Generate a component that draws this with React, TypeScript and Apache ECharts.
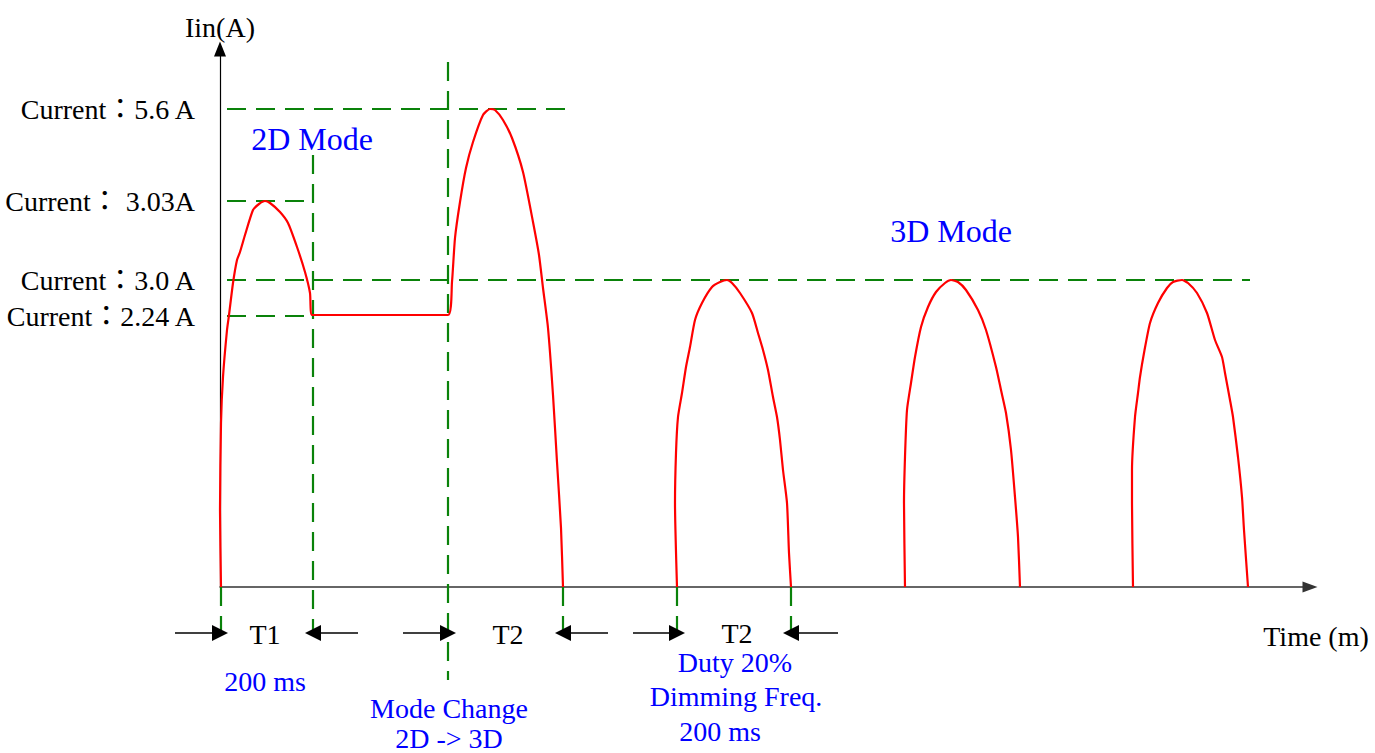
import React, { useEffect, useRef } from "react";
import * as echarts from "echarts";

// Schematic units: x = time position, y = drawn current level (diagram is not to scale)
const levelNames = ["Current：5.6 A", "Current： 3.03A", "Current：3.0 A", "Current：2.24 A"];
const levelHeights = [478, 386, 307, 271];
const levelStart = [-22, -22, -22, -22];
const levelEnd = [345, 85, 1030, 92];

// 2D pulse, hold at 2.24 A, then mode-change pulse
const pulse2D = [
  [1, 0], [0, 77], [1, 164], [3, 210], [7, 257], [9, 272], [13, 304], [17, 327], [20, 335],
  [25, 352], [33, 377], [39, 383], [45, 386], [50, 384], [60, 375], [68, 364], [77, 340],
  [85, 315], [90, 294], [92, 272],
];
const holdLevel = [[92, 272], [228, 272]];
const pulseChange = [
  [228, 272], [232, 305], [235, 349], [240, 385], [246, 419], [253, 445], [263, 472], [270, 478],
  [275, 477], [283, 467], [292, 449], [303, 415], [313, 365], [319, 332], [323, 299], [328, 259],
  [333, 192], [337, 125], [341, 59], [343, 0],
];
const pulse3D1 = [
  [457, 0], [455, 84], [456, 134], [458, 170], [462, 194], [466, 220], [470, 240], [475, 267],
  [482, 284], [492, 300], [500, 305], [507, 307], [512, 304], [520, 294], [532, 274], [538, 254],
  [543, 237], [548, 217], [553, 190], [557, 170], [560, 147], [563, 117], [567, 84], [569, 34], [571, 0],
];
const pulse3D2 = [
  [685, 0], [684, 84], [685, 130], [687, 177], [691, 204], [695, 230], [701, 260], [708, 280],
  [716, 295], [725, 304], [731, 307], [738, 305], [746, 297], [758, 277], [766, 257], [776, 220],
  [781, 197], [786, 174], [791, 137], [795, 90], [798, 50], [800, 0],
];
const pulse3D3 = [
  [913, 0], [912, 84], [912, 117], [915, 170], [918, 194], [920, 210], [924, 234], [930, 264],
  [938, 284], [947, 299], [953, 305], [962, 307], [968, 304], [977, 294], [987, 274], [995, 247],
  [1002, 230], [1005, 214], [1010, 187], [1013, 170], [1018, 130], [1022, 90], [1024, 57], [1028, 0],
];

// vertical dashed markers
const markerX = [93, 228, 1, 343, 457, 571];
const markerTop = [432, 525, 0, 0, 0, 0];
const markerBottom = [-46, -93, -46, -46, -46, -46];

// dimension arrows
const arrowFrom = [-45, 138, 183, 388, 413, 618];
const arrowTo = [0, 93, 228, 343, 457, 571];
const arrowLevel = -46;

// annotations
const annoTexts = ["2D Mode", "3D Mode", "T1", "T2", "T2", "200 ms", "Mode Change", "2D -> 3D", "Duty 20%", "Dimming Freq.", "200 ms"];
const annoX = [92, 731, 45, 288, 517, 45, 229, 229, 515, 516, 500];
const annoY = [448, 356, -47, -47, -46, -94, -121, -151, -75, -109, -144];
const annoBlue = [true, true, false, false, false, true, true, true, true, true, true];
const annoLarge = [true, true, false, false, false, false, false, false, false, false, false];

const FONT = "'Liberation Serif', 'Times New Roman', 'Noto Sans CJK TC', serif";
const GREEN = "#0a820a";
const DASH = [19, 10];

function buildOption() {
  const redStyle = { color: "#ff0000", width: 2.2 };
  const redSeries = [pulse2D.concat(holdLevel, pulseChange), pulse3D1, pulse3D2, pulse3D3].map((d) => ({
    type: "line",
    data: d,
    symbol: "none",
    smooth: 0.2,
    clip: false,
    silent: true,
    lineStyle: redStyle,
    z: 3,
  }));

  const levelSeries = levelHeights.map((h, i) => ({
    type: "line",
    data: [[levelStart[i], h], [levelEnd[i], h]],
    symbol: "none",
    clip: false,
    silent: true,
    lineStyle: { color: GREEN, width: 2.2, type: DASH },
    z: 2,
  }));

  const markerSeries = markerX.map((x, i) => ({
    type: "line",
    data: [[x, markerTop[i]], [x, markerBottom[i]]],
    symbol: "none",
    clip: false,
    silent: true,
    lineStyle: { color: GREEN, width: 2.2, type: DASH },
    z: 2,
  }));

  return {
    animation: false,
    backgroundColor: "#ffffff",
    grid: { left: 220, right: 65, top: 49, bottom: 166 },
    xAxis: {
      type: "value",
      min: 0,
      max: 1090,
      name: "Time (m)",
      nameLocation: "end",
      nameGap: 6,
      nameTextStyle: { fontFamily: FONT, fontSize: 28, color: "#000", align: "center", verticalAlign: "top", padding: [35, 0, 0, 0] },
      axisLine: { show: true, onZero: false, symbol: ["none", "triangle"], symbolSize: [11, 15], lineStyle: { color: "#333", width: 1.5 } },
      axisTick: { show: false },
      axisLabel: { show: false },
      splitLine: { show: false },
    },
    yAxis: {
      type: "value",
      min: 0,
      max: 538,
      name: "Iin(A)",
      nameLocation: "end",
      nameGap: 8,
      nameTextStyle: { fontFamily: FONT, fontSize: 28, color: "#000", align: "center" },
      axisLine: { show: true, onZero: false, symbol: ["none", "triangle"], symbolSize: [12, 15], lineStyle: { color: "#000", width: 1.2 } },
      axisTick: { show: false },
      axisLabel: { show: false },
      splitLine: { show: false },
    },
    series: [
      ...levelSeries,
      ...markerSeries,
      ...redSeries,
      {
        type: "lines",
        coordinateSystem: "cartesian2d",
        silent: true,
        clip: false,
        symbol: ["none", "triangle"],
        symbolSize: [9, 16],
        lineStyle: { color: "#000", width: 1.5, opacity: 1, curveness: 0 },
        data: arrowFrom.map((f, i) => ({ coords: [[f, arrowLevel], [arrowTo[i], arrowLevel]] })),
        z: 4,
      },
      {
        type: "scatter",
        clip: false,
        silent: true,
        symbolSize: 0,
        itemStyle: { opacity: 1 },
        data: levelHeights.map((h, i) => ({
          value: [levelStart[i], h],
          label: { formatter: levelNames[i] },
        })),
        label: { show: true, position: "left", distance: 3, fontFamily: FONT, fontSize: 28, color: "#000000", opacity: 1 },
        z: 5,
      },
      {
        type: "scatter",
        clip: false,
        silent: true,
        symbolSize: 0,
        itemStyle: { opacity: 1 },
        data: annoTexts.map((t, i) => ({
          value: [annoX[i], annoY[i]],
          label: { formatter: t, color: annoBlue[i] ? "#0000ff" : "#000000", fontSize: annoLarge[i] ? 32 : 28 },
        })),
        label: { show: true, position: "inside", fontFamily: FONT, align: "center", verticalAlign: "middle", lineHeight: 24, opacity: 1 },
        z: 5,
      },
    ],
  };
}

export default function App() {
  const ref = useRef<HTMLDivElement>(null);
  useEffect(() => {
    if (!ref.current) return;
    const chart = echarts.init(ref.current, null, { renderer: "svg" });
    chart.setOption(buildOption() as any);
    return () => chart.dispose();
  }, []);
  return (
    <div
      ref={ref}
      style={{ position: "fixed", left: 0, top: 0, width: 1375, height: 753, background: "#fff" }}
    />
  );
}
